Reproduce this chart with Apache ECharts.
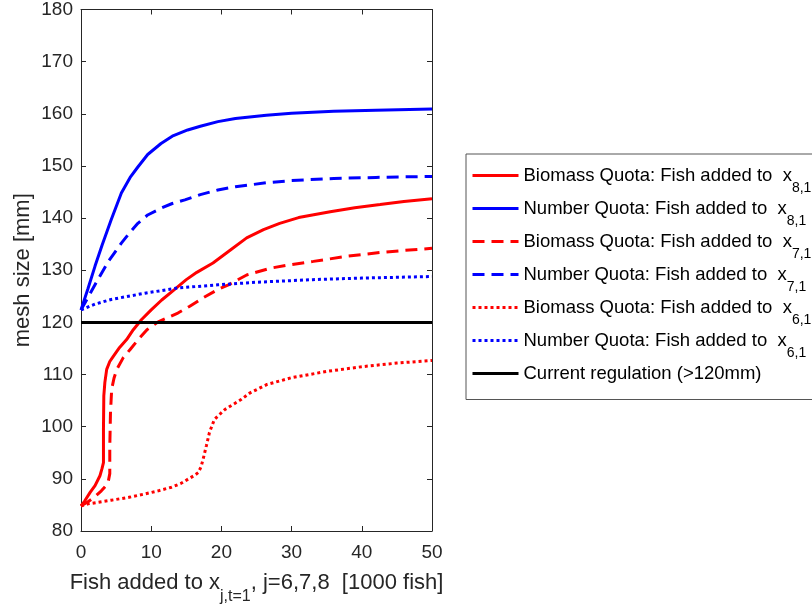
<!DOCTYPE html>
<html>
<head>
<meta charset="utf-8">
<script src="https://cdn.jsdelivr.net/npm/echarts@6/dist/echarts.min.js"></script>
<style>
  html, body { margin: 0; padding: 0; background: #fff; }
  #chart { width: 812px; height: 610px; }
</style>
</head>
<body>
<div id="chart"></div>
<script>
// values
const numX8_x = [0, 1, 2, 3, 4.3, 5.75, 7, 8.1, 9.5, 11.4, 13, 15.2, 17, 19.5, 22, 26.4, 30, 36, 42, 50];
const numX8_y = [122.4, 126.5, 130.8, 134.8, 139.7, 144.8, 147.8, 149.8, 152.2, 154.3, 155.7, 156.9, 157.6, 158.5, 159.1, 159.7, 160.1, 160.5, 160.7, 160.9];

const numX7_x = [0, 1, 2.4, 4, 5.75, 7, 8.1, 9.5, 11.4, 13, 14.8, 17, 19.5, 22, 26.5, 30, 36, 42, 50];
const numX7_y = [122.4, 124.8, 128.2, 131.9, 135.2, 137.3, 139.0, 140.6, 141.9, 142.8, 143.5, 144.5, 145.4, 146.0, 146.8, 147.2, 147.6, 147.8, 148.0];

const numX6_x = [0, 2, 4.3, 9.1, 13.8, 19.5, 25, 33, 40, 50];
const numX6_y = [122.4, 123.5, 124.4, 125.6, 126.6, 127.2, 127.7, 128.2, 128.5, 128.8];

const bioX8_x = [0, 0.5, 1.3, 2, 2.7, 3.0, 3.2, 3.2, 3.25, 3.4, 3.66, 4.1, 4.6, 5.5, 6.5, 7.45, 8.6, 10, 11.5, 13.3, 15, 16.5, 18.8, 21, 23.6, 26, 28.3, 31, 35.5, 39, 42.6, 46, 50];
const bioX8_y = [84.8, 85.7, 87.4, 88.7, 90.6, 92, 93.1, 99.5, 105.9, 108.5, 111, 112.5, 113.5, 115.2, 116.7, 118.6, 120.5, 122.4, 124.3, 126.3, 128.2, 129.6, 131.4, 133.6, 136.2, 137.8, 139.0, 140.1, 141.2, 142.0, 142.6, 143.2, 143.7];

const bioX7_x = [0, 1, 2, 2.9, 3.5, 3.9, 4.1, 4.1, 4.2, 4.37, 4.7, 5.1, 6, 7, 8.2, 9.4, 11, 13.8, 15.5, 17.5, 19.5, 21, 23.6, 27, 30, 33.1, 38, 42.6, 46, 50];
const bioX7_y = [84.8, 85.6, 86.6, 87.7, 88.6, 89.6, 91, 96, 102.7, 107.2, 109.3, 111, 113.2, 114.8, 116.8, 118.6, 120.1, 121.8, 123.1, 124.8, 126.3, 127.2, 129.1, 130.4, 131.1, 131.7, 132.7, 133.4, 133.8, 134.2];

const bioX6_x = [0, 1, 4.3, 7, 9.1, 11, 12.9, 14.2, 15.2, 16.2, 16.7, 17.1, 17.4, 17.85, 18.3, 19.0, 20.5, 22.8, 24.1, 26.5, 30, 35, 40, 45, 50];
const bioX6_y = [84.8, 85.2, 85.9, 86.5, 87.1, 87.7, 88.4, 89.1, 89.9, 90.7, 91.2, 92.3, 93.8, 96.3, 98.9, 101.4, 103.3, 105.2, 106.5, 108.1, 109.4, 110.6, 111.5, 112.2, 112.7];

const regulation_x = [0, 50];
const regulation_y = [120, 120];

// trailing spaces only keep the legend names unique
const seriesNames = [
  'Biomass Quota: Fish added to  x',
  'Number Quota: Fish added to  x',
  'Biomass Quota: Fish added to  x ',
  'Number Quota: Fish added to  x ',
  'Biomass Quota: Fish added to  x  ',
  'Number Quota: Fish added to  x  ',
  'Current regulation (>120mm)'
];
const legendSubs = ['8,1', '8,1', '7,1', '7,1', '6,1', '6,1', ''];

const FONT = 'Liberation Sans, Arial, sans-serif';
const RED = '#ff0000';
const BLUE = '#0000ff';
const AXIS_COLOR = '#262626';
const DASH = [12, 7];
const DOT = [3, 3];

const zip = (xs, ys) => xs.map((x, i) => [x, ys[i]]);

const mkLine = (name, xs, ys, color, type) => ({
  name: name,
  type: 'line',
  showSymbol: false,
  symbol: 'none',
  silent: true,
  data: zip(xs, ys),
  lineStyle: { color: color, width: 3, type: type },
  itemStyle: { color: color },
  z: 3
});

const chart = echarts.init(document.getElementById('chart'), null, { renderer: 'canvas' });

const baseAxis = {
  type: 'value',
  axisLine: { show: true, onZero: false, lineStyle: { color: AXIS_COLOR, width: 1 } },
  axisTick: { show: true, inside: true, length: 5, lineStyle: { color: AXIS_COLOR } },
  splitLine: { show: false }
};

const option = {
  animation: false,
  backgroundColor: '#fff',
  grid: { left: 81, right: 380, top: 9, bottom: 78 },
  legend: {
    orient: 'vertical',
    left: 466,
    top: 154,
    padding: [12, 40, 6, 5],
    itemWidth: 46,
    itemHeight: 14,
    itemGap: 3.5,
    borderColor: '#555',
    borderWidth: 1,
    itemStyle: { opacity: 0 },
    lineStyle: { width: 3 },
    data: seriesNames,
    formatter: function (name) {
      const i = seriesNames.indexOf(name);
      const sub = legendSubs[i] || ' ';
      return name.trimEnd() + '{sub|' + sub + '}';
    },
    textStyle: {
      fontFamily: FONT,
      fontSize: 18.5,
      color: '#000',
      rich: {
        sub: { fontFamily: FONT, fontSize: 14, color: '#000', padding: [26, 0, 0, 0] }
      }
    }
  },
  xAxis: [
    Object.assign({}, baseAxis, {
      position: 'bottom',
      min: 0, max: 50, interval: 10,
      name: 'Fish added to x{sub|j,t=1}, j=6,7,8  [1000 fish]',
      nameLocation: 'middle',
      nameGap: 30,
      nameTextStyle: {
        fontFamily: FONT, fontSize: 22, color: AXIS_COLOR,
        rich: { sub: { fontFamily: FONT, fontSize: 16, color: AXIS_COLOR, padding: [28, 0, 0, 0] } }
      },
      axisLabel: { fontFamily: FONT, fontSize: 19, color: AXIS_COLOR, margin: 12 }
    }),
    Object.assign({}, baseAxis, {
      position: 'top',
      min: 0, max: 50, interval: 10,
      axisLabel: { show: false }
    })
  ],
  yAxis: [
    Object.assign({}, baseAxis, {
      position: 'left',
      min: 80, max: 180, interval: 10,
      name: 'mesh size [mm]',
      nameLocation: 'middle',
      nameGap: 47,
      nameTextStyle: { fontFamily: FONT, fontSize: 22, color: AXIS_COLOR },
      axisLabel: { fontFamily: FONT, fontSize: 19, color: AXIS_COLOR, margin: 8 }
    }),
    Object.assign({}, baseAxis, {
      position: 'right',
      min: 80, max: 180, interval: 10,
      axisLabel: { show: false }
    })
  ],
  series: [
    mkLine(seriesNames[0], bioX8_x, bioX8_y, RED, 'solid'),
    mkLine(seriesNames[1], numX8_x, numX8_y, BLUE, 'solid'),
    mkLine(seriesNames[2], bioX7_x, bioX7_y, RED, DASH),
    mkLine(seriesNames[3], numX7_x, numX7_y, BLUE, DASH),
    mkLine(seriesNames[4], bioX6_x, bioX6_y, RED, DOT),
    mkLine(seriesNames[5], numX6_x, numX6_y, BLUE, DOT),
    mkLine(seriesNames[6], regulation_x, regulation_y, '#000', 'solid')
  ]
};

chart.setOption(option);
</script>
</body>
</html>
